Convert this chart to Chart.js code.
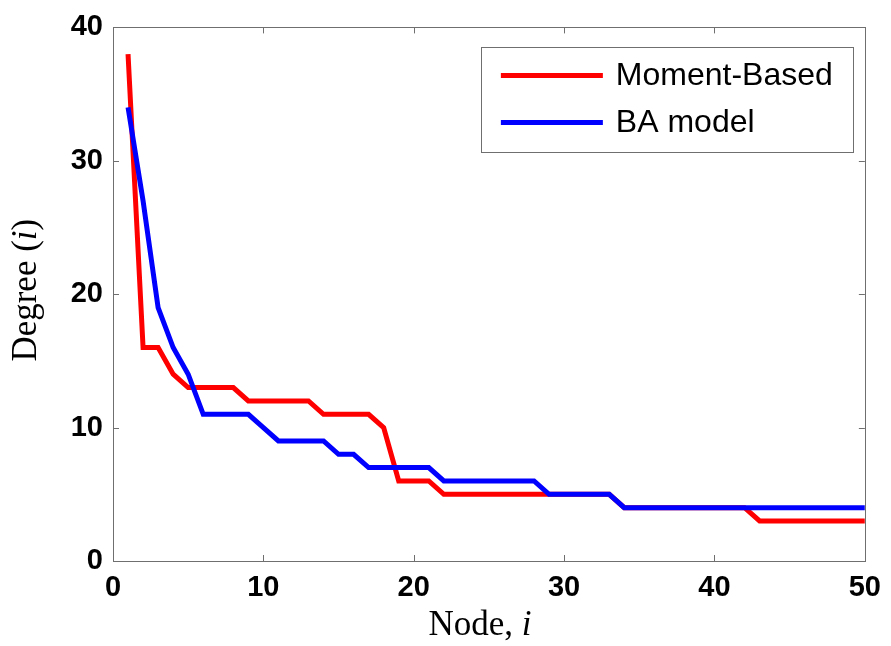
<!DOCTYPE html>
<html>
<head>
<meta charset="utf-8">
<script src="https://cdn.jsdelivr.net/npm/chart.js@4"></script>
<style>
  html, body { margin: 0; padding: 0; background: #fff; }
  canvas { display: block; }
</style>
</head>
<body>
<canvas id="degreeChart" width="891" height="646"></canvas>
<script>
// node index (x) and degree per node for both models
const nodes = [1, 2, 3, 4, 5, 6, 7, 8, 9, 10, 11, 12, 13, 14, 15, 16, 17, 18, 19, 20,
  21, 22, 23, 24, 25, 26, 27, 28, 29, 30, 31, 32, 33, 34, 35, 36, 37, 38, 39, 40,
  41, 42, 43, 44, 45, 46, 47, 48, 49, 50];
const momentBased = [38, 16, 16, 14, 13, 13, 13, 13, 12, 12, 12, 12, 12, 11, 11, 11, 11, 10, 6, 6,
  6, 5, 5, 5, 5, 5, 5, 5, 5, 5, 5, 5, 5, 4, 4, 4, 4, 4, 4, 4,
  4, 4, 3, 3, 3, 3, 3, 3, 3, 3];
const baModel = [34, 27, 19, 16, 14, 11, 11, 11, 11, 10, 9, 9, 9, 9, 8, 8, 7, 7, 7, 7,
  7, 6, 6, 6, 6, 6, 6, 6, 5, 5, 5, 5, 5, 4, 4, 4, 4, 4, 4, 4,
  4, 4, 4, 4, 4, 4, 4, 4, 4, 4];
const seriesLabels = ["Moment-Based", "BA model"];
const xTicks = [0, 10, 20, 30, 40, 50];
const yTicks = [0, 10, 20, 30, 40];

const toPoints = vals => nodes.map((n, i) => ({ x: n, y: vals[i] }));
const frameColor = "#6f6f6f";

/** --------------- box, inward ticks, legend, axis titles ---------------- */
const matlabFrame = {
    id: "matlabFrame",
    afterDatasetsDraw(chart) {
        const { ctx, chartArea: a, scales } = chart;
        ctx.save();
        ctx.strokeStyle = frameColor;
        ctx.lineWidth = 1;
        ctx.strokeRect(Math.round(a.left) + 0.5, Math.round(a.top) + 0.5,
            Math.round(a.right - a.left), Math.round(a.bottom - a.top));
        const tl = 6;
        ctx.beginPath();
        xTicks.forEach(v => {
            const px = Math.round(scales.x.getPixelForValue(v)) + 0.5;
            ctx.moveTo(px, a.bottom); ctx.lineTo(px, a.bottom - tl);
            ctx.moveTo(px, a.top); ctx.lineTo(px, a.top + tl);
        });
        yTicks.forEach(v => {
            const py = Math.round(scales.y.getPixelForValue(v)) + 0.5;
            ctx.moveTo(a.left, py); ctx.lineTo(a.left + tl, py);
            ctx.moveTo(a.right, py); ctx.lineTo(a.right - tl, py);
        });
        ctx.stroke();

        // legend box
        const lx = a.right - 384, ly = a.top + 20, lw = 372, lh = 105;
        ctx.fillStyle = "#fff";
        ctx.fillRect(lx, ly, lw, lh);
        ctx.strokeRect(Math.round(lx) + 0.5, Math.round(ly) + 0.5, lw, lh);
        ctx.font = "32px 'Liberation Sans', Arial, sans-serif";
        ctx.textBaseline = "middle";
        ctx.textAlign = "left";
        chart.data.datasets.slice().sort((p, q) => p.legendIndex - q.legendIndex).forEach((ds, i) => {
            const y = ly + 28 + i * 47;
            ctx.strokeStyle = ds.borderColor;
            ctx.lineWidth = 5;
            ctx.beginPath();
            ctx.moveTo(lx + 20, y); ctx.lineTo(lx + 122, y);
            ctx.stroke();
            ctx.fillStyle = "#000";
            ctx.fillText(ds.label, lx + 135, y + 1);
        });

        // axis titles, with italic i
        const drawMixed = (parts, cx, cy, rot) => {
            ctx.save();
            ctx.translate(cx, cy);
            ctx.rotate(rot);
            ctx.fillStyle = "#000";
            ctx.textBaseline = "alphabetic";
            let total = 0;
            parts.forEach(p => { ctx.font = p.font; total += ctx.measureText(p.text).width; });
            let x = -total / 2;
            parts.forEach(p => {
                ctx.font = p.font;
                ctx.fillText(p.text, x, 0);
                x += ctx.measureText(p.text).width;
            });
            ctx.restore();
        };
        const rom = "35px 'Liberation Serif', 'Times New Roman', serif";
        const ita = "italic 35px 'Liberation Serif', 'Times New Roman', serif";
        drawMixed([{ text: "Node, ", font: rom }, { text: "i", font: ita }],
            (a.left + a.right) / 2 - 9, 635, 0);
        drawMixed([{ text: "Degree (", font: rom }, { text: "i", font: ita }, { text: ")", font: rom }],
            36, (a.top + a.bottom) / 2 - 4, -Math.PI / 2);
        ctx.restore();
    }
};

document.addEventListener("DOMContentLoaded", () => {
    const tickFont = { family: "'Liberation Sans', Arial, sans-serif", size: 29, weight: "bold" };
    new Chart(document.getElementById("degreeChart").getContext("2d"), {
        type: "line",
        data: {
            datasets: [
                {
                    label: seriesLabels[0],
                    data: toPoints(momentBased),
                    borderColor: "#ff0000",
                    borderWidth: 5,
                    pointRadius: 0,
                    tension: 0,
                    order: 2,
                    legendIndex: 0,
                },
                {
                    label: seriesLabels[1],
                    data: toPoints(baModel),
                    borderColor: "#0000ff",
                    borderWidth: 5,
                    pointRadius: 0,
                    tension: 0,
                    order: 1,
                    legendIndex: 1,
                },
            ],
        },
        options: {
            responsive: false,
            animation: false,
            layout: { padding: { left: 0, top: 23, right: 24, bottom: 0 } },
            scales: {
                x: {
                    type: "linear",
                    min: 0,
                    max: 50,
                    afterBuildTicks: s => { s.ticks = xTicks.map(v => ({ value: v })); },
                    afterFit: s => { s.height = 85; },
                    grid: { display: false, drawTicks: false },
                    border: { display: false },
                    ticks: { color: "#000", font: tickFont, padding: 10, maxRotation: 0 },
                },
                y: {
                    type: "linear",
                    min: 0,
                    max: 40,
                    afterBuildTicks: s => { s.ticks = yTicks.map(v => ({ value: v })); },
                    afterFit: s => { s.width = 113; },
                    grid: { display: false, drawTicks: false },
                    border: { display: false },
                    ticks: { color: "#000", font: tickFont, padding: 10 },
                },
            },
            plugins: {
                legend: { display: false },
                tooltip: { enabled: false },
            },
        },
        plugins: [matlabFrame],
    });
});
</script>
</body>
</html>
